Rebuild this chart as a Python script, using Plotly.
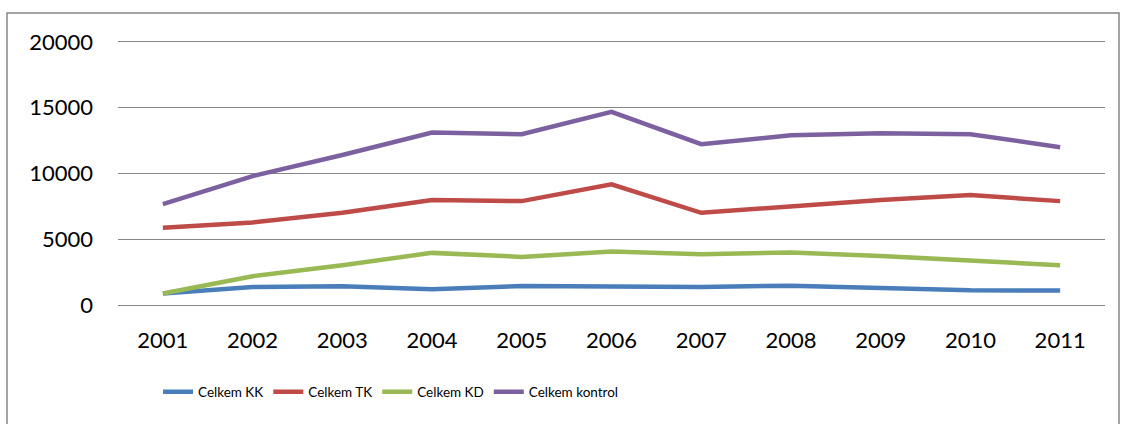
import plotly.graph_objects as go

years = ["2001", "2002", "2003", "2004", "2005", "2006", "2007", "2008", "2009", "2010", "2011"]
celkem_kk = [870, 1370, 1425, 1195, 1450, 1425, 1370, 1475, 1325, 1120, 1100]
celkem_tk = [5870, 6280, 7010, 7980, 7900, 9175, 7010, 7520, 7980, 8360, 7900]
celkem_kd = [870, 2190, 3025, 3965, 3660, 4070, 3865, 3990, 3735, 3405, 3025]
celkem_kontrol = [7675, 9800, 11410, 13110, 12990, 14690, 12225, 12910, 13060, 12990, 12000]

series = [
    ("Celkem KK", celkem_kk, "#4A7EBB"),
    ("Celkem TK", celkem_tk, "#BE4B48"),
    ("Celkem KD", celkem_kd, "#98B954"),
    ("Celkem kontrol", celkem_kontrol, "#7D60A0"),
]

fig = go.Figure()
for name, vals, color in series:
    fig.add_trace(go.Scatter(x=years, y=vals, name=name, mode="lines",
                             line=dict(color=color, width=4.5)))

L, R, T, B = 118, 19, 40, 117
W, H = 1124, 424
pw, ph = W - L - R, H - T - B
ymin, ymax = -150, 20150

fig.update_layout(
    width=W, height=H,
    margin=dict(l=L, r=R, t=T, b=B, autoexpand=False),
    paper_bgcolor="white", plot_bgcolor="white",
    font=dict(family="Lato", size=22, color="black"),
    showlegend=True,
    legend=dict(orientation="h", x=(158 - L) / pw, xanchor="left",
                y=-(392 - (T + ph)) / ph, yanchor="middle",
                font=dict(size=13.5, family="Lato"),
                bgcolor="rgba(0,0,0,0)"),
    xaxis=dict(type="category", range=[-0.5, 10.5], showgrid=False, showline=False,
               zeroline=False, ticks="", ticklabelstandoff=18),
    yaxis=dict(range=[ymin, ymax], tickvals=[0, 5000, 10000, 15000, 20000],
               tickformat="d", showgrid=True, gridcolor="#868686",
               gridwidth=1.2, zeroline=False, showline=False, ticks="",
               ticklabelstandoff=24),
    shapes=[dict(type="rect", xref="paper", yref="paper",
                 x0=(7 - L) / pw, x1=(1119 - L) / pw,
                 y0=-(430 - (T + ph)) / ph, y1=((T + ph) - 13) / ph,
                 line=dict(color="#868686", width=1.5), fillcolor="rgba(0,0,0,0)",
                 layer="below")],
)

fig.write_html("out.html", config={"displayModeBar": False},
               post_script="document.body.style.margin='0';")
